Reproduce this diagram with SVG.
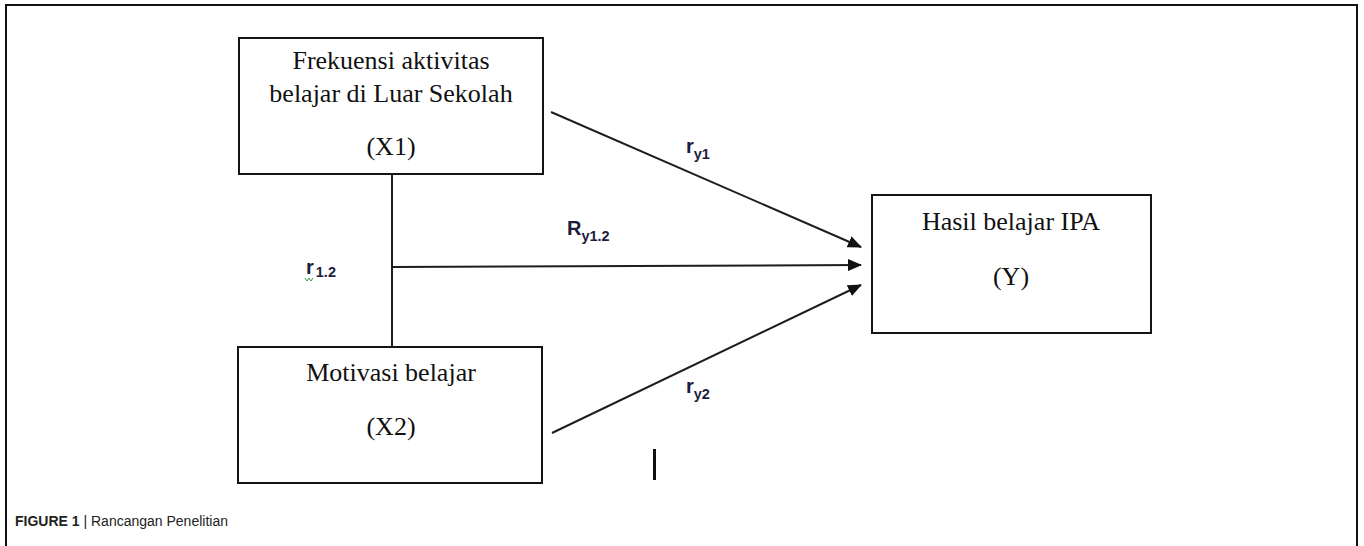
<svg xmlns="http://www.w3.org/2000/svg" width="1364" height="546" viewBox="0 0 1364 546">
  <style>
    .box { fill: #ffffff; stroke: #141414; stroke-width: 2; }
    .node-text { font-family: "Liberation Serif", "Times New Roman", serif; font-size: 26px; fill: #111111; text-anchor: middle; }
    .edge { stroke: #1e1e1e; stroke-width: 2; fill: none; }
    .coef { font-family: "Liberation Sans", Arial, sans-serif; font-weight: bold; font-size: 20px; fill: #1c1c3c; }
    .coef .sub { font-size: 14.5px; }
    .caption { font-family: "Liberation Sans", Arial, sans-serif; font-size: 14px; fill: #222222; }
  </style>
  <defs>
    <marker id="arrow" viewBox="0 0 14 12" refX="13" refY="6" markerWidth="14" markerHeight="12" markerUnits="userSpaceOnUse" orient="auto">
      <path d="M0,0 L14,6 L0,12 z" fill="#111111"/>
    </marker>
  </defs>

  <!-- figure frame (open at the bottom) -->
  <path d="M6,546 V5 H1357 V546" fill="none" stroke="#111111" stroke-width="2"/>

  <!-- connectors -->
  <g id="connectors">
    <line class="edge" x1="392" y1="174" x2="392" y2="347"/>
    <line class="edge" x1="551" y1="112" x2="861" y2="247" marker-end="url(#arrow)"/>
    <line class="edge" x1="392" y1="267" x2="861" y2="265" marker-end="url(#arrow)"/>
    <line class="edge" x1="552" y1="433" x2="861" y2="285" marker-end="url(#arrow)"/>
  </g>

  <!-- path coefficient labels -->
  <g id="labels">
    <text class="coef" x="686" y="153">r<tspan class="sub" dy="6">y1</tspan></text>
    <text class="coef" x="567" y="235">R<tspan class="sub" dy="6">y1.2</tspan></text>
    <text class="coef" x="306" y="274">r<tspan class="sub" dx="2" dy="3">1.2</tspan></text>
    <path d="M305,278 l2,3 l2,-3 l2,3 l2,-3" fill="none" stroke="#3a9a3a" stroke-width="1"/>
    <text class="coef" x="686" y="393">r<tspan class="sub" dy="6">y2</tspan></text>
  </g>

  <g id="node-x1">
    <rect class="box" x="239" y="38" width="304" height="136"/>
    <text class="node-text" x="391" y="69">Frekuensi aktivitas</text>
    <text class="node-text" x="391" y="102">belajar di Luar Sekolah</text>
    <text class="node-text" x="391" y="155">(X1)</text>
  </g>

  <g id="node-x2">
    <rect class="box" x="238" y="347" width="304" height="136"/>
    <text class="node-text" x="391" y="381">Motivasi belajar</text>
    <text class="node-text" x="391" y="435">(X2)</text>
  </g>

  <g id="node-y">
    <rect class="box" x="872" y="195" width="279" height="138"/>
    <text class="node-text" x="1011" y="230">Hasil belajar IPA</text>
    <text class="node-text" x="1011" y="285">(Y)</text>
  </g>

  <!-- stray vertical stroke below the diagram -->
  <line x1="654.5" y1="449" x2="654.5" y2="480" stroke="#111111" stroke-width="3"/>

  <text class="caption" x="15" y="526"><tspan font-weight="bold">FIGURE 1</tspan> | Rancangan Penelitian</text>
</svg>
